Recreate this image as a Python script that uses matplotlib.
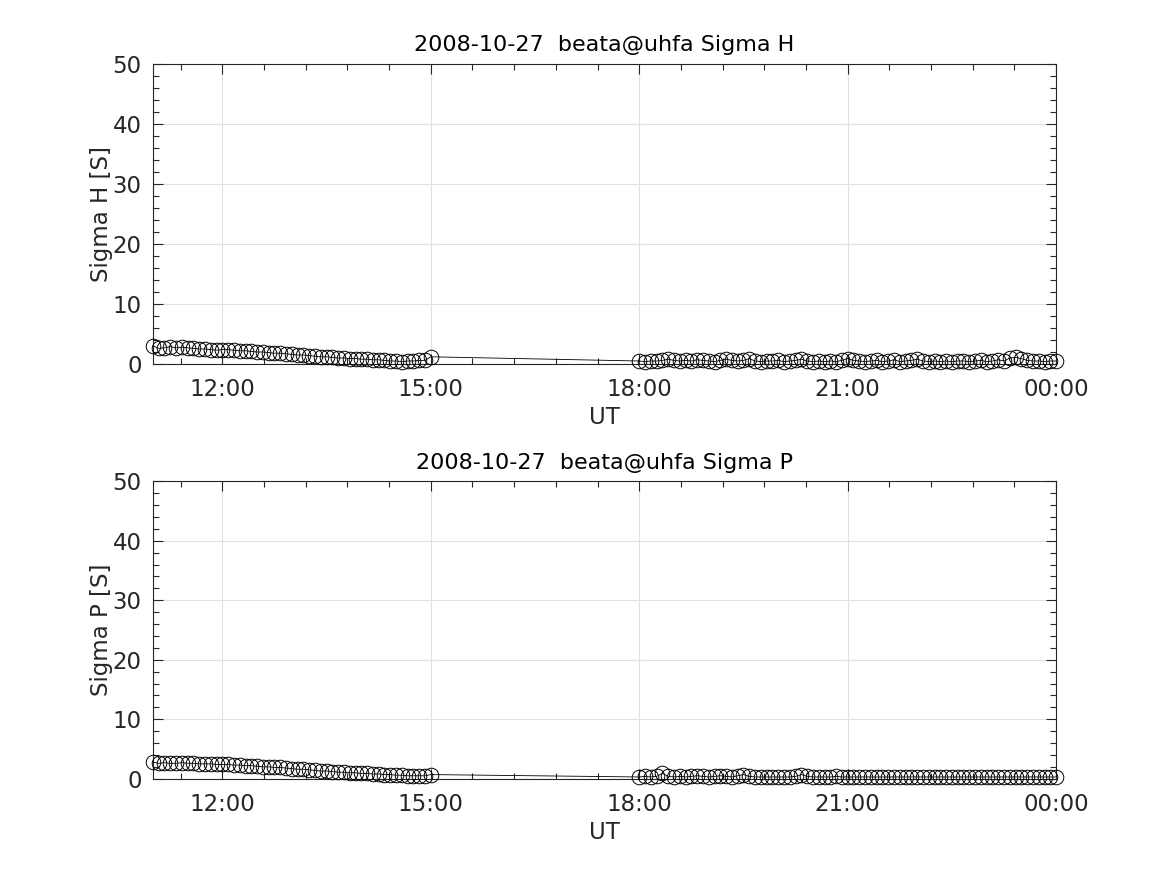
import numpy as np
import matplotlib.pyplot as plt
from matplotlib.ticker import MultipleLocator

# time in hours UT, 5 minute steps
t1 = np.arange(49) * 5 / 60 + 11.0      # 11:00 - 15:00
t2 = np.arange(73) * 5 / 60 + 18.0      # 18:00 - 00:00

sigma_h1 = [3.0, 2.6, 2.7, 2.9, 2.7, 2.8, 2.7, 2.6, 2.5, 2.5, 2.4, 2.3, 2.4,
            2.4, 2.3, 2.2, 2.2, 2.1, 2.0, 2.0, 1.9, 1.8, 1.8, 1.7, 1.6, 1.5,
            1.5, 1.4, 1.3, 1.2, 1.2, 1.1, 1.0, 1.0, 0.9, 0.9, 0.8, 0.8, 0.7,
            0.7, 0.6, 0.5, 0.5, 0.4, 0.5, 0.5, 0.6, 0.6, 1.2]
sigma_h2 = [0.5, 0.4, 0.5, 0.5, 0.6, 0.8, 0.6, 0.5, 0.6, 0.5, 0.7, 0.6, 0.5,
            0.4, 0.6, 0.8, 0.6, 0.5, 0.6, 0.9, 0.5, 0.4, 0.5, 0.5, 0.6, 0.4,
            0.5, 0.6, 0.8, 0.5, 0.4, 0.5, 0.4, 0.5, 0.4, 0.6, 0.9, 0.6, 0.5,
            0.4, 0.5, 0.6, 0.4, 0.5, 0.7, 0.4, 0.5, 0.6, 0.8, 0.5, 0.4, 0.5,
            0.4, 0.5, 0.4, 0.5, 0.5, 0.4, 0.5, 0.6, 0.4, 0.5, 0.7, 0.5, 1.0,
            1.1, 0.9, 0.6, 0.5, 0.5, 0.4, 0.5, 0.5]

sigma_p1 = [2.8, 2.6, 2.7, 2.6, 2.6, 2.7, 2.6, 2.6, 2.5, 2.5, 2.5, 2.4, 2.4,
            2.4, 2.3, 2.3, 2.2, 2.2, 2.1, 2.0, 2.0, 1.9, 1.9, 1.8, 1.7, 1.6,
            1.6, 1.5, 1.4, 1.3, 1.3, 1.2, 1.1, 1.1, 1.0, 1.0, 0.9, 0.9, 0.8,
            0.8, 0.7, 0.7, 0.6, 0.6, 0.5, 0.5, 0.5, 0.5, 0.7]
sigma_p2 = [0.3, 0.4, 0.3, 0.4, 0.9, 0.4, 0.3, 0.4, 0.3, 0.4, 0.5, 0.4, 0.3,
            0.4, 0.5, 0.4, 0.3, 0.5, 0.7, 0.4, 0.3, 0.3, 0.3, 0.3, 0.3, 0.3,
            0.3, 0.4, 0.7, 0.4, 0.3, 0.3, 0.3, 0.3, 0.4, 0.3, 0.3, 0.3, 0.3,
            0.3, 0.3, 0.3, 0.3, 0.3, 0.3, 0.3, 0.3, 0.3, 0.3, 0.3, 0.3, 0.3,
            0.3, 0.3, 0.3, 0.3, 0.3, 0.3, 0.3, 0.3, 0.3, 0.3, 0.3, 0.3, 0.3,
            0.3, 0.3, 0.3, 0.3, 0.3, 0.3, 0.3, 0.3]

xticks = [12, 15, 18, 21, 24]
xticklabels = ['12:00', '15:00', '18:00', '21:00', '00:00']

panels = [
    ('Sigma H', np.concatenate([sigma_h1, sigma_h2])),
    ('Sigma P', np.concatenate([sigma_p1, sigma_p2])),
]
t = np.concatenate([t1, t2])

fig = plt.figure(figsize=(11.67, 8.75), dpi=100)
boxes = [[0.131, 0.584, 0.774, 0.343], [0.131, 0.110, 0.774, 0.340]]
txt = '#262626'

for (name, vals), box in zip(panels, boxes):
    ax = fig.add_axes(box)
    ax.plot(t, vals, '-o', color='black', lw=0.6, ms=10.5, mfc='none',
            mec='black', mew=0.7, clip_on=False, zorder=3)
    ax.set_xlim(11, 24)
    ax.set_ylim(0, 50)
    ax.set_xticks(xticks)
    ax.set_xticklabels(xticklabels)
    ax.set_yticks([0, 10, 20, 30, 40, 50])
    ax.xaxis.set_minor_locator(MultipleLocator(0.6))
    ax.yaxis.set_minor_locator(MultipleLocator(2))
    ax.grid(True, which='major', color='#e0e0e0', lw=0.8)
    ax.set_axisbelow(True)
    ax.tick_params(which='both', direction='in', top=True, right=True,
                   colors=txt, labelsize=16.5, width=0.8)
    ax.tick_params(which='major', length=7)
    ax.tick_params(which='minor', length=4)
    ax.tick_params(axis='x', which='major', pad=10)
    ax.tick_params(axis='y', which='major', pad=8)
    for s in ax.spines.values():
        s.set_color(txt)
        s.set_linewidth(0.8)
    ax.set_title('2008-10-27  beata@uhfa ' + name, fontsize=16, color='black', pad=9)
    ax.set_xlabel('UT', fontsize=16.5, color=txt, labelpad=4)
    ax.set_ylabel(name + ' [S]', fontsize=16.5, color=txt, labelpad=0)

plt.savefig('out.png')
